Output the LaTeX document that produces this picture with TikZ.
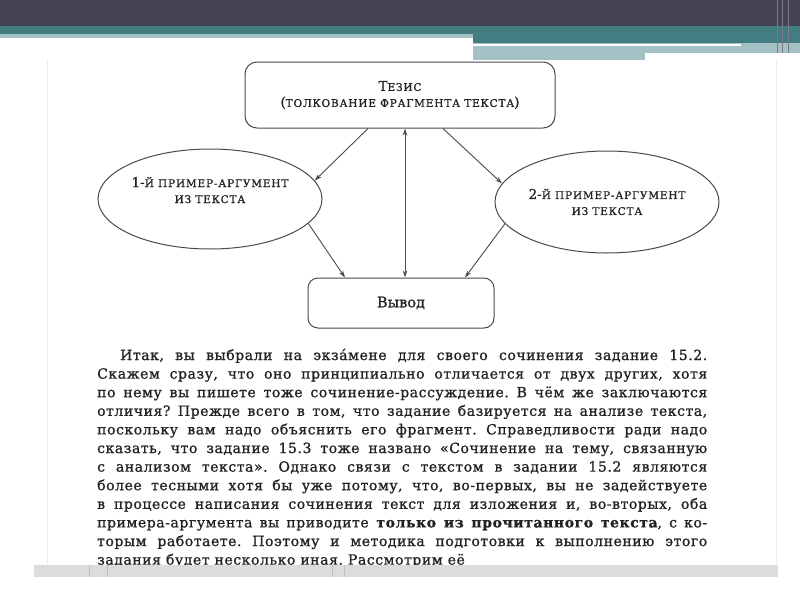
\documentclass[tikz,border=0pt]{standalone}
\usepackage{fontspec}
\setmainfont{DejaVu Serif}[FakeBold=1]
\usetikzlibrary{shapes.geometric,arrows.meta}
\definecolor{topdark}{HTML}{434354}
\definecolor{tealband}{HTML}{437D81}
\definecolor{ltealband}{HTML}{A4C2C5}
\definecolor{ink}{HTML}{222222}
\definecolor{lineg}{HTML}{4A4A4A}
\definecolor{barg}{HTML}{DCDCDC}
\newcommand\smc[1]{{\fontsize{10.5}{12}\selectfont\addfontfeature{LetterSpace=8}\MakeUppercase{#1}}}
\newcommand\bigch[1]{{\fontsize{13.5}{16}\selectfont #1}}
\newcommand\bline[1]{\makebox[610pt][s]{#1}}
\tikzset{
  frame/.style={draw=lineg, line width=1pt, rounded corners=12pt, align=center, text=ink, inner sep=2pt},
  oval/.style={ellipse, draw=lineg, line width=1pt, align=center, text=ink, inner sep=0pt},
  conn/.style={draw=lineg, line width=0.9pt, -{Stealth[length=7pt,width=4.5pt]}},
  dconn/.style={draw=lineg, line width=0.9pt, {Stealth[length=7pt,width=4.5pt]}-{Stealth[length=7pt,width=4.5pt]}},
}
\begin{document}
\begin{tikzpicture}[x=1pt,y=-1pt]
\useasboundingbox (0,0) rectangle (800,600);
\fill[white] (0,0) rectangle (800,600);
% top decoration
\fill[topdark] (0,0) rectangle (800,26);
\fill[tealband] (0,26) rectangle (800,34);
\fill[ltealband] (0,34) rectangle (473,38);
\fill[tealband] (473,34) rectangle (800,43);
\fill[ltealband] (473,43) rectangle (800,53);
\fill[white] (473,43.5) rectangle (741,45.5);
\fill[ltealband] (473,53) rectangle (645,60);
\foreach \xx in {777,782,788} \draw[topdark!70!white, line width=0.5pt] (\xx,0) -- (\xx,53);
% faint page edges
\draw[black!8, line width=0.6pt] (47,60) -- (47,565);
\draw[black!8, line width=0.6pt] (776,60) -- (776,565);
% diagram
\node[frame, minimum width=310pt, minimum height=66pt] (tezis) at (400,95)
  {\bigch{Т}\smc{езис}\\[4pt]\bigch{(}\smc{толкование фрагмента текста}\bigch{)}};
\node[oval, minimum width=224pt, minimum height=100pt] (e1) at (210,199)
  {\bigch{1-}\smc{й пример-аргумент}\\[4pt]\smc{из текста}\\[6pt]};
\node[oval, minimum width=224pt, minimum height=102pt] (e2) at (607,202)
  {\bigch{2-}\smc{й пример-аргумент}\\[4pt]\smc{из текста}};
\node[frame, rounded corners=10pt, minimum width=186pt, minimum height=50pt, font=\fontsize{14.5}{16}\selectfont] (vyvod) at (401,303) {Вывод};
\draw[conn] ([xshift=-32pt]tezis.south) -- (e1.10);
\draw[conn] ([xshift=43pt]tezis.south) -- (e2.170);
\draw[dconn] ([xshift=5pt]tezis.south) -- ([xshift=5pt]tezis.south |- vyvod.north);
\draw[conn] (e1.-14) -- ([xshift=-56pt]vyvod.north);
\draw[conn] (e2.192) -- ([xshift=64pt]vyvod.north);
% body text
\node[anchor=base west, inner sep=0pt, text=ink, font=\fontsize{14}{18.6}\selectfont\addfontfeature{LetterSpace=4}\frenchspacing] (body) at (97,360) {\parbox[t]{610pt}{%
\bline{\hspace*{23pt}Итак, вы выбрали на экза́мене для своего сочинения задание 15.2.}\\
\bline{Скажем сразу, что оно принципиально отличается от двух других, хотя}\\
\bline{по нему вы пишете тоже сочинение-рассуждение. В чём же заключаются}\\
\bline{отличия? Прежде всего в том, что задание базируется на анализе текста,}\\
\bline{поскольку вам надо объяснить его фрагмент. Справедливости ради надо}\\
\bline{сказать, что задание 15.3 тоже названо «Сочинение на тему, связанную}\\
\bline{с анализом текста». Однако связи с текстом в задании 15.2 являются}\\
\bline{более тесными хотя бы уже потому, что, во-первых, вы не задействуете}\\
\bline{в процессе написания сочинения текст для изложения и, во-вторых, оба}\\
\bline{примера-аргумента вы приводите \textbf{только из прочитанного текста}, с ко-}\\
\bline{торым работаете. Поэтому и методика подготовки к выполнению этого}\\
задания будет несколько иная. Рассмотрим её}};
% bottom bar
\fill[barg] (34,565) rectangle (778,577);
\foreach \xx in {89,107,332,344} \draw[black!25, line width=0.6pt] (\xx,565) -- (\xx,577);
\end{tikzpicture}
\end{document}
